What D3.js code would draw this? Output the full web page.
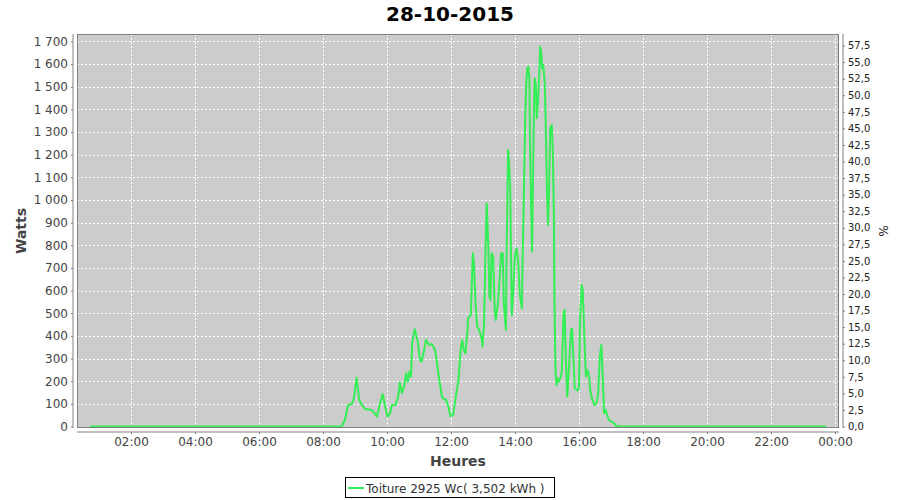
<!DOCTYPE html>
<html>
<head>
<meta charset="utf-8">
<script src="https://cdn.jsdelivr.net/npm/d3@7"></script>
<style>
  html, body { margin: 0; padding: 0; background: #ffffff; }
  svg { display: block; font-family: "DejaVu Sans", sans-serif; }
</style>
</head>
<body>
<svg id="chart" width="900" height="500"></svg>
<script>
// ---- data ----
const chartTitle = "28-10-2015";
const seriesName = "Toiture 2925 Wc( 3,502 kWh )";
const peakPower = 2925; // Wc, for % axis
const times = [
  "00:43","08:35","08:41","08:47","08:54","08:58","09:03","09:08","09:13","09:19",
  "09:31","09:36","09:41","09:47","09:52","09:56","10:01","10:06","10:09","10:16",
  "10:21","10:24","10:28","10:32","10:36","10:39","10:42","10:45","10:47","10:52",
  "10:57","11:02","11:05","11:09","11:13","11:19","11:24","11:30","11:33","11:38",
  "11:43","11:47","11:51","11:55","11:59","12:04","12:09","12:14","12:18","12:21",
  "12:24","12:27","12:31","12:32","12:37","12:41","12:43","12:46","12:49","12:53",
  "12:58","12:59","13:02","13:05","13:07","13:10","13:12","13:14","13:16","13:19",
  "13:22","13:24","13:28","13:31","13:34","13:37","13:39","13:43","13:44","13:47",
  "13:49","13:51","13:54","13:57","14:00","14:03","14:06","14:09","14:13","14:14",
  "14:17","14:19","14:21","14:23","14:25","14:27","14:28","14:30","14:32","14:34",
  "14:36","14:37","14:39","14:41","14:43","14:46","14:47","14:49","14:51","14:53",
  "14:56","14:58","15:00","15:02","15:04","15:06","15:09","15:11","15:13","15:14",
  "15:16","15:18","15:20","15:22","15:26","15:28","15:31","15:33","15:36","15:38",
  "15:41","15:45","15:47","15:50","15:52","15:58","16:00","16:02","16:05","16:07",
  "16:10","16:13","16:16","16:19","16:21","16:24","16:29","16:33","16:36","16:39",
  "16:42","16:44","16:46","16:47","16:50","16:53","16:56","17:01","17:06","17:09",
  "17:14","23:43"
];
const watts = [
  0,0,29,95,99,126,215,117,95,77,
  73,60,43,104,143,95,43,60,95,95,
  132,194,148,175,236,198,242,220,367,429,
  382,294,286,330,382,360,364,338,294,205,
  132,120,117,87,46,51,132,205,338,382,
  338,323,426,478,492,765,720,544,441,426,
  382,352,456,809,985,794,573,558,765,750,
  514,470,544,647,765,765,544,426,720,1221,
  1162,1050,492,611,757,787,728,581,522,698,
  1066,1346,1508,1581,1589,1537,1287,993,772,1140,
  1464,1537,1508,1361,1434,1581,1677,1655,1581,1596,
  1508,1287,1022,890,1066,1317,1331,1213,919,551,
  242,183,213,198,220,249,500,514,249,132,
  249,426,433,279,169,158,176,470,625,603,
  397,220,249,220,161,125,95,102,147,308,
  360,249,132,58,73,51,29,21,14,4,
  0,0
];
const xTickLabels = ["02:00","04:00","06:00","08:00","10:00","12:00","14:00","16:00","18:00","20:00","22:00","00:00"];
const yTicks = [0,100,200,300,400,500,600,700,800,900,1000,1100,1200,1300,1400,1500,1600,1700];
const pctTicks = [0,2.5,5,7.5,10,12.5,15,17.5,20,22.5,25,27.5,30,32.5,35,37.5,40,42.5,45,47.5,50,52.5,55,57.5];

// ---- layout ----
const svg = d3.select("#chart");
const plot = { left: 77, right: 839, top: 34, bottom: 428 };

const toMin = s => { const [h, m] = s.split(":").map(Number); return h * 60 + m; };
const xTickMinutes = xTickLabels.map((l, i) => (i + 1) * 120);

const x = d3.scaleLinear().domain([18.75, 1447.5]).range([plot.left, plot.right]);
const y = d3.scaleLinear().domain([-6.6, 1733]).range([plot.bottom, plot.top]);
const yPct = d3.scaleLinear().domain(y.domain().map(v => v / peakPower * 100)).range([plot.bottom, plot.top]);

const data = times.map((t, i) => ({ t: toMin(t), w: watts[i] }));

// plot background
svg.append("rect")
  .attr("x", plot.left).attr("y", plot.top)
  .attr("width", plot.right - plot.left).attr("height", plot.bottom - plot.top)
  .attr("fill", "#cccccc");

// gridlines
const grid = svg.append("g").attr("stroke", "#ffffff").attr("stroke-width", 1).attr("stroke-dasharray", "2,2");
yTicks.forEach(v => {
  grid.append("line")
    .attr("x1", plot.left).attr("x2", plot.right)
    .attr("y1", Math.round(y(v)) + 0.5).attr("y2", Math.round(y(v)) + 0.5);
});
xTickMinutes.forEach(v => {
  grid.append("line")
    .attr("x1", Math.round(x(v)) + 0.5).attr("x2", Math.round(x(v)) + 0.5)
    .attr("y1", plot.top).attr("y2", plot.bottom);
});

// data line
const line = d3.line().x(d => x(d.t)).y(d => y(d.w));
svg.append("path")
  .datum(data)
  .attr("fill", "none")
  .attr("stroke", "#33ee55")
  .attr("stroke-width", 2)
  .attr("stroke-linejoin", "round")
  .attr("d", line);

// plot border
svg.append("rect")
  .attr("x", plot.left + 0.5).attr("y", plot.top + 0.5)
  .attr("width", plot.right - plot.left - 1).attr("height", plot.bottom - plot.top - 1)
  .attr("fill", "none").attr("stroke", "#808080").attr("stroke-width", 1);

// number formats
const frLocale = d3.formatLocale({ decimal: ",", thousands: "\u00a0", grouping: [3], currency: ["", "€"] });
const fmtW = frLocale.format(",d");
const fmtPct = frLocale.format(".1f");

// left axis
const yAxis = d3.axisLeft(y).tickValues(yTicks).tickFormat(fmtW).tickSize(2).tickPadding(3);
const gy = svg.append("g").attr("transform", `translate(${plot.left - 4},0)`).call(yAxis);
gy.select(".domain").attr("stroke", "#808080").attr("d", `M-0,${plot.top}V${plot.bottom}`);
gy.selectAll(".tick line").attr("stroke", "#808080");
gy.selectAll("text").attr("fill", "#444444").style("font-size", "12px").style("font-family", "DejaVu Sans");

// right axis
const pAxis = d3.axisRight(yPct).tickValues(pctTicks).tickFormat(fmtPct).tickSize(2).tickPadding(3);
const gp = svg.append("g").attr("transform", `translate(${plot.right + 4},0)`).call(pAxis);
gp.select(".domain").attr("stroke", "#808080").attr("d", `M0,${plot.top}V${plot.bottom}`);
gp.selectAll(".tick line").attr("stroke", "#808080");
gp.selectAll("text").attr("fill", "#222222").style("font-size", "10px").style("font-family", "DejaVu Sans");

// bottom axis
const xAxis = d3.axisBottom(x).tickValues(xTickMinutes).tickFormat((d, i) => xTickLabels[i]).tickSize(2).tickPadding(3);
const gx = svg.append("g").attr("transform", `translate(0,${plot.bottom + 4})`).call(xAxis);
gx.select(".domain").attr("stroke", "#808080").attr("d", `M${plot.left},0H${plot.right}`);
gx.selectAll(".tick line").attr("stroke", "#808080");
gx.selectAll("text").attr("fill", "#444444").style("font-size", "12px").style("font-family", "DejaVu Sans");

// title
svg.append("text")
  .attr("x", 450).attr("y", 21).attr("text-anchor", "middle")
  .style("font-size", "20px").style("font-weight", "bold").attr("fill", "#000000")
  .text(chartTitle);

// axis titles
svg.append("text")
  .attr("transform", `translate(26,${(plot.top + plot.bottom) / 2}) rotate(-90)`)
  .attr("text-anchor", "middle")
  .style("font-size", "14px").style("font-weight", "bold").attr("fill", "#444444")
  .text("Watts");
svg.append("text")
  .attr("x", (plot.left + plot.right) / 2).attr("y", 466).attr("text-anchor", "middle")
  .style("font-size", "14px").style("font-weight", "bold").attr("fill", "#444444")
  .text("Heures");
svg.append("text")
  .attr("transform", `translate(879,${(plot.top + plot.bottom) / 2}) rotate(90)`)
  .attr("text-anchor", "middle")
  .style("font-size", "12px").attr("fill", "#222222")
  .text("%");

// legend
const lg = svg.append("g");
lg.append("rect")
  .attr("x", 345.5).attr("y", 477.5).attr("width", 209).attr("height", 20)
  .attr("fill", "#ffffff").attr("stroke", "#000000").attr("stroke-width", 1);
lg.append("line")
  .attr("x1", 348).attr("x2", 364).attr("y1", 488).attr("y2", 488)
  .attr("stroke", "#33ee55").attr("stroke-width", 2);
lg.append("text")
  .attr("x", 366).attr("y", 492.5)
  .style("font-size", "12px").attr("fill", "#333333")
  .text(seriesName);
</script>
</body>
</html>
